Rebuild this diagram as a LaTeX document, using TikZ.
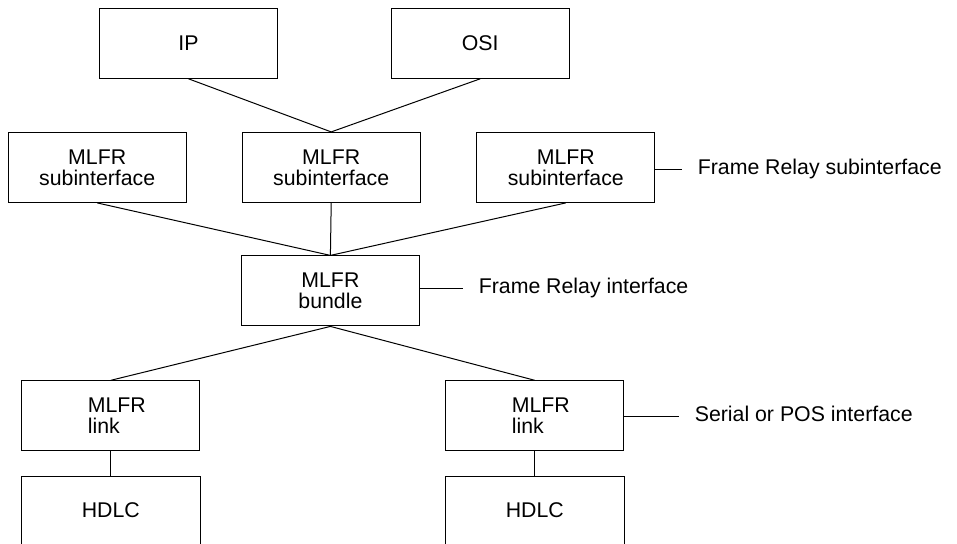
\documentclass[tikz,border=0pt]{standalone}
\usepackage{fontspec}
\setmainfont{Liberation Sans}
\usepackage{tikz}

\begin{document}
\begin{tikzpicture}[x=0.5pt, y=-0.5pt, line width=0.5pt,
            box/.style={draw, minimum width=89pt, minimum height=35pt, inner sep=0pt, align=center,
                font=\fontsize{10.65pt}{10.5pt}\selectfont},
            openbox/.style={minimum width=89pt, minimum height=32.85pt, inner sep=0pt,
                font=\fontsize{10.65pt}{10.5pt}\selectfont},
            side/.style={anchor=west, inner xsep=7.5pt, inner ysep=0pt, text height=7.8pt, text depth=2.2pt,
                font=\fontsize{10.65pt}{10.5pt}\selectfont}]
            \useasboundingbox (0,0) rectangle (957,543);
            \node[box] (ip) at (188.5,43.3) {IP};
            \node[box] (osi) at (480.2,43.3) {OSI};
            \node[box] (sub_l) at (97.2,167.4) {MLFR\\subinterface};
            \node[box] (sub_m) at (331.2,167.4) {MLFR\\subinterface};
            \node[box] (sub_r) at (565.8,167.4) {MLFR\\subinterface};
            \node[box] (bundle) at (330.4,290.9) {MLFR\\bundle};
            \node[box, align=left] (link_l) at (110.8,415.8) {\hspace*{6pt}MLFR\\\hspace*{6pt}link};
            \node[box, align=left] (link_r) at (534.8,415.8) {\hspace*{6pt}MLFR\\\hspace*{6pt}link};
            \node[openbox] (hdlc_l) at (110.8,510.2) {HDLC};
            \node[openbox] (hdlc_r) at (534.8,510.2) {HDLC};
            \node[side] (fr_sub) at (682.3,169.3) {Frame Relay subinterface};
            \node[side] (fr_if) at (463.3,288.3) {Frame Relay interface};
            \node[side] (serial_if) at (679.3,416) {Serial or POS interface};
            \draw (ip.south) -- (sub_m.north) -- (osi.south);
            \draw (sub_l.south) -- (bundle.north) -- (sub_r.south);
            \draw (sub_m.south) -- (bundle.north);
            \draw (link_l.north) -- (bundle.south) -- (link_r.north);
            \draw (link_l.south) -- (hdlc_l.north);
            \draw (link_r.south) -- (hdlc_r.north);
            \draw (hdlc_l.south west) -- (hdlc_l.north west) -- (hdlc_l.north east) -- (hdlc_l.south east);
            \draw (hdlc_r.south west) -- (hdlc_r.north west) -- (hdlc_r.north east) -- (hdlc_r.south east);
            \draw (sub_r.east |- fr_sub.west) -- (fr_sub.west);
            \draw (bundle.east |- fr_if.west) -- (fr_if.west);
            \draw (link_r.east |- serial_if.west) -- (serial_if.west);
        \end{tikzpicture}
\end{document}
